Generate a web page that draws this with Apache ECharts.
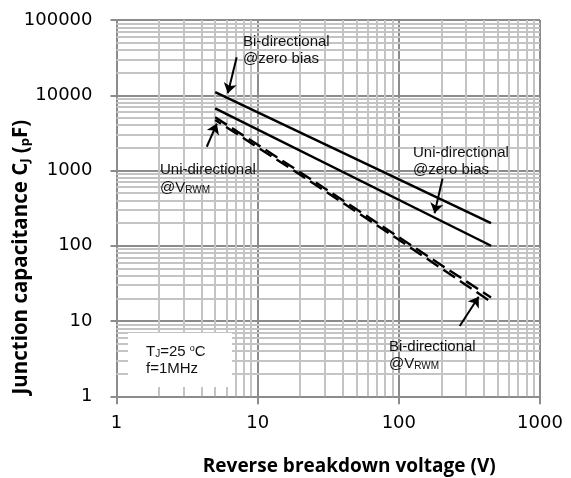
<!DOCTYPE html>
<html>
<head>
<meta charset="utf-8">
<script src="https://cdn.jsdelivr.net/npm/echarts@6/dist/echarts.min.js"></script>
<style>html,body{margin:0;padding:0;background:#fff}#chart{width:571px;height:478px}</style>
</head>
<body>
<div id="chart"></div>
<script>
// 坐标轴刻度
var xTicks = [1, 10, 100, 1000];
var yTicks = [1, 10, 100, 1000, 10000, 100000];
// 实线: 零偏压
var voltSolid = [5, 450];
var biZeroBias = [11000, 200];
var uniZeroBias = [6700, 100];
// 虚线: @VRWM
var voltDashed = [5, 20, 100, 450];
var uniVrwm = [5100, 950, 130, 20.5];
var biVrwm = [4700, 880, 120, 18];
// 箭头 (数据坐标: 尾 -> 头)
var arrows = [
    [[7.1, 32000], [6.15, 10600]],
    [[4.36, 2070], [5.14, 4200]],
    [[204, 785], [179, 270]],
    [[270, 8.6], [368, 21]]
];

function pairs(xs, ys) {
    var out = [];
    for (var i = 0; i < xs.length; i++) out.push([xs[i], ys[i]]);
    return out;
}

//次网格线 2..9
var minorLines = [];
for (var k = 0; k < 5; k++) {
    for (var d = 2; d <= 9; d++) {
        var v = d * Math.pow(10, k);
        minorLines.push({yAxis: v});
        if (k < 3) minorLines.push({xAxis: v});
    }
}

var myChart = echarts.init(document.getElementById('chart'));
var black = '#000';
var labelFont = '15px "Liberation Sans", Arial, sans-serif';
var subRich = {s: {fontSize: 10, fontFamily: 'Liberation Sans', verticalAlign: 'bottom', padding: [4, 0, 0, 0]}};

function note(text, x, y) {
    return {
        type: 'text', z: 100,
        style: {text: text, x: x, y: y, font: labelFont, fill: '#111', verticalAlign: 'middle', rich: subRich}
    };
}

var option = {
    animation: false,
    backgroundColor: '#fff',
    grid: {left: 116.5, right: 31, top: 20, bottom: 81.7, containLabel: false, outerBoundsMode: 'none'},
    xAxis: {
        type: 'log', logBase: 10, min: xTicks[0], max: xTicks[xTicks.length - 1],
        name: 'Reverse breakdown voltage (V)', nameLocation: 'middle', nameGap: 61,
        nameTextStyle: {fontFamily: 'Open Sans', fontWeight: 'bold', fontSize: 19, color: '#000', padding: [0, 0, 0, 42]},
        axisLine: {show: true, lineStyle: {color: '#8c8c8c', width: 2}},
        axisTick: {show: true, length: 8, lineStyle: {color: '#8c8c8c', width: 2}},
        axisLabel: {
            margin: 18, fontFamily: 'DejaVu Sans', fontSize: 18, color: '#000',
            formatter: function (v) { return String(Math.round(v)); }
        },
        splitLine: {show: true, lineStyle: {color: '#8c8c8c', width: 2}}
    },
    yAxis: {
        type: 'log', logBase: 10, min: yTicks[0], max: yTicks[yTicks.length - 1],
        name: 'Junction capacitance C{s|J} ({s|p}F)', nameLocation: 'middle', nameGap: 85,
        nameMoveOverlap: false,
        nameTextStyle: {
            fontFamily: 'Open Sans', fontWeight: 'bold', fontSize: 20.5, color: '#000', padding: [0, 98, 0, 0],
            rich: {s: {fontFamily: 'Open Sans', fontWeight: 'bold', fontSize: 13, color: '#000', verticalAlign: 'bottom', padding: [7, 0, 0, 0]}}
        },
        axisLine: {show: true, lineStyle: {color: '#8c8c8c', width: 2}},
        axisTick: {show: true, length: 6, lineStyle: {color: '#8c8c8c', width: 2}},
        axisLabel: {
            margin: 24, fontFamily: 'DejaVu Sans', fontSize: 18, color: '#000',
            formatter: function (v) { return String(Math.round(v)); }
        },
        splitLine: {show: true, lineStyle: {color: '#8c8c8c', width: 2}}
    },
    series: [
        {
            name: 'minor-grid', type: 'line', z: 1, data: [[1, 1]], showSymbol: false, silent: true,
            markLine: {
                z: 1, silent: true, symbol: ['none', 'none'], label: {show: false},
                lineStyle: {color: '#c4c4c4', width: 2, type: 'solid'},
                emphasis: {disabled: true},
                data: minorLines
            }
        },
        {
            name: 'Bi-directional @zero bias', type: 'line', z: 3, showSymbol: false,
            lineStyle: {color: black, width: 2.4}, data: pairs(voltSolid, biZeroBias)
        },
        {
            name: 'Uni-directional @zero bias', type: 'line', z: 3, showSymbol: false,
            lineStyle: {color: black, width: 2.4}, data: pairs(voltSolid, uniZeroBias)
        },
        {
            name: 'Uni-directional @VRWM', type: 'line', z: 3, showSymbol: false,
            lineStyle: {color: black, width: 2.4, type: [14, 6]}, data: pairs(voltDashed, uniVrwm)
        },
        {
            name: 'Bi-directional @VRWM', type: 'line', z: 3, showSymbol: false,
            lineStyle: {color: black, width: 2.4, type: [14, 6], dashOffset: 7}, data: pairs(voltDashed, biVrwm),
            markLine: {
                silent: true, symbol: ['none', 'arrow'], symbolSize: 10, label: {show: false},
                lineStyle: {color: black, width: 2, type: 'solid'},
                data: arrows.map(function (a) { return [{coord: a[0]}, {coord: a[1]}]; })
            }
        }
    ],
    graphic: [
        {type: 'rect', z: 90, shape: {x: 128, y: 333, width: 104, height: 54}, style: {fill: '#fff'}},
        note('T{s|J}=25 {o|o}C', 146, 352),
        note('f=1MHz', 146, 369),
        note('Bi-directional', 243, 42),
        note('@zero bias', 243, 59),
        note('Uni-directional', 160, 170),
        note('@V{s|RWM}', 160, 188),
        note('Uni-directional', 413, 153),
        note('@zero bias', 413, 170),
        note('Bi-directional', 389, 347),
        note('@V{s|RWM}', 389, 364)
    ]
};
option.graphic[1].style.rich = {
    s: subRich.s,
    o: {fontSize: 9, fontFamily: 'Liberation Sans', verticalAlign: 'top', padding: [0, 0, 5, 0]}
};

myChart.setOption(option);
</script>
</body>
</html>
